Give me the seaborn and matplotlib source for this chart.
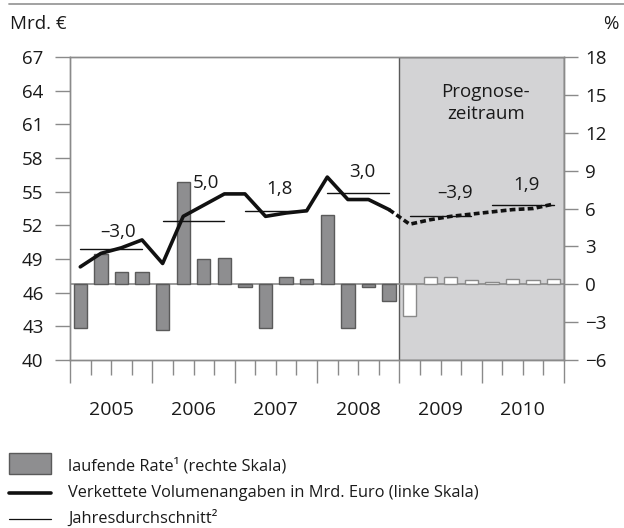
import numpy as np
import pandas as pd
import matplotlib
matplotlib.use("Agg")
import matplotlib.pyplot as plt
from matplotlib.patches import Rectangle
from matplotlib.lines import Line2D
import matplotlib.transforms as mtransforms
import seaborn as sns

sns.set_style("white")
plt.rcParams['font.family'] = ['Open Sans', 'DejaVu Sans']

# Quartale 2005 Q1 .. 2010 Q4
jahre = ["2005", "2006", "2007", "2008", "2009", "2010"]
quartale = np.arange(24)
phase = ["Ist"] * 16 + ["Prognose"] * 8

# laufende Rate (rechte Skala, %)
rate = [-3.5, 2.4, 1.0, 1.0,
        -3.6, 8.1, 2.0, 2.1,
        -0.2, -3.5, 0.6, 0.4,
        5.5, -3.5, -0.2, -1.3,
        -2.5, 0.6, 0.6, 0.3,
        0.2, 0.4, 0.3, 0.4]

# Verkettete Volumenangaben in Mrd. Euro (linke Skala)
volumen = [48.3, 49.5, 50.0, 50.7,
           48.6, 52.8, 53.8, 54.8,
           54.8, 52.8, 53.1, 53.3,
           56.3, 54.3, 54.3, 53.4,
           52.1, 52.5, 52.8, 53.0,
           53.2, 53.4, 53.5, 53.9]

# Jahresdurchschnitt (Niveau) und Veraenderungsraten
jahresmittel = [49.9, 52.4, 53.3, 54.9, 52.8, 53.8]
jahresrate = ["\u20133,0", "5,0", "1,8", "3,0", "\u20133,9", "1,9"]
label_pos = [(1.85, 51.4), (6.1, 55.8), (9.7, 55.2), (13.7, 56.75), (18.2, 54.9), (21.7, 55.6)]

df = pd.DataFrame({"q": quartale, "rate": rate, "vol": volumen, "phase": phase})

fig = plt.figure(figsize=(6.24, 5.28), dpi=100)
ax = fig.add_axes([70 / 624, 168 / 528, 494 / 624, 303 / 528])
ax2 = ax.twinx()

grey_axis = "#8a8a8a"
txt = "#1a1a1a"

# Prognosezeitraum
ax2.axvspan(15.5, 23.5, color="#d3d3d5", lw=0, zorder=0)
ax2.axhline(0, color=grey_axis, lw=1.2, zorder=1)

sns.barplot(data=df, x="q", y="rate", hue="phase",
            palette={"Ist": "#8e8e90", "Prognose": "#ffffff"},
            width=0.65, dodge=False, legend=False, ax=ax2, zorder=2)
for p in ax2.patches:
    p.set_edgecolor("#5a5a5a" if p.get_facecolor()[0] < 0.9 else "#8a8a8a")
    p.set_linewidth(1.0)

# Volumen-Linie
ist = df[df.q <= 15]
prog = df[df.q >= 15]
sns.lineplot(data=ist, x="q", y="vol", color="#111111", lw=2.6, ax=ax)
sns.lineplot(data=prog, x="q", y="vol", color="#111111", lw=2.6, ax=ax,
             linestyle=(0, (1.6, 0.9)))

# Jahresdurchschnitte
for k, m in enumerate(jahresmittel):
    ax.plot([4 * k, 4 * k + 3], [m, m], color="#111111", lw=1.0)
    ax.text(label_pos[k][0], label_pos[k][1], jahresrate[k], ha="center", va="center",
            fontsize=13.5, color=txt)

ax.text(19.7, 62.9, "Prognose-\nzeitraum", ha="center", va="center", fontsize=13.5,
        color=txt, linespacing=1.3)

ax.set_zorder(ax2.get_zorder() + 1)
ax.patch.set_visible(False)

ax.set_xlim(-0.5, 23.5)
ax.set_ylim(40, 67)
ax2.set_ylim(-6, 18)
ax.set_yticks(np.arange(40, 68, 3))
ax2.set_yticks(np.arange(-6, 19, 3))
ax.set_yticklabels([str(v) for v in np.arange(40, 68, 3)])
ax2.set_yticklabels([str(v).replace("-", "\u2212") for v in np.arange(-6, 19, 3)])

ax.set_xlabel("")
ax.set_ylabel("")
ax2.set_xlabel("")
ax2.set_ylabel("")

ax.set_xticks(np.arange(-0.5, 24, 4))
ax.set_xticks([q + 0.5 for q in range(24) if (q + 1) % 4 != 0], minor=True)
ax.set_xticklabels([])

ax.tick_params(axis="x", which="major", direction="out", length=16.5, width=1.0,
               color=grey_axis, bottom=True)
ax.tick_params(axis="x", which="minor", direction="out", length=11, width=1.0,
               color=grey_axis, bottom=True)
ax.tick_params(axis="y", direction="out", length=11, width=1.0, color=grey_axis,
               labelsize=13.5, labelcolor=txt, pad=8, left=True)
ax2.tick_params(axis="y", direction="out", length=10, width=1.0, color=grey_axis,
                labelsize=13.5, labelcolor=txt, pad=5, right=True)

for a in (ax, ax2):
    for s in a.spines.values():
        s.set_color(grey_axis)
        s.set_linewidth(1.0)

trans = mtransforms.blended_transform_factory(ax.transData, ax.transAxes)
for k, j in enumerate(jahre):
    ax.text(4 * k + 1.5, -0.165, j, transform=trans, ha="center", va="center",
            fontsize=14, color=txt)

# Kopfzeile
fig.add_artist(Line2D([9 / 624, 1], [524 / 528, 524 / 528], color="#9a9a9a", lw=1.3))
fig.text(10 / 624, 504 / 528, "Mrd. \u20ac", ha="left", va="center", fontsize=13.5, color=txt)
fig.text(618 / 624, 504 / 528, "%", ha="right", va="center", fontsize=13.5, color=txt)

# Legende
fig.add_artist(Rectangle((9 / 624, 54 / 528), 42 / 624, 21 / 528, facecolor="#8e8e90",
                         edgecolor="#5a5a5a", lw=1.0))
fig.add_artist(Line2D([9 / 624, 51 / 624], [35 / 528, 35 / 528], color="#111111", lw=2.6))
fig.add_artist(Line2D([9 / 624, 51 / 624], [9 / 528, 9 / 528], color="#111111", lw=0.9))
leg_txt = ["laufende Rate\u00b9 (rechte Skala)",
           "Verkettete Volumenangaben in Mrd. Euro (linke Skala)",
           "Jahresdurchschnitt\u00b2"]
for t, yy in zip(leg_txt, [62, 35, 10]):
    fig.text(68 / 624, yy / 528, t, ha="left", va="center", fontsize=11.8, color=txt)

fig.savefig("out.png", dpi=100, facecolor="white")
